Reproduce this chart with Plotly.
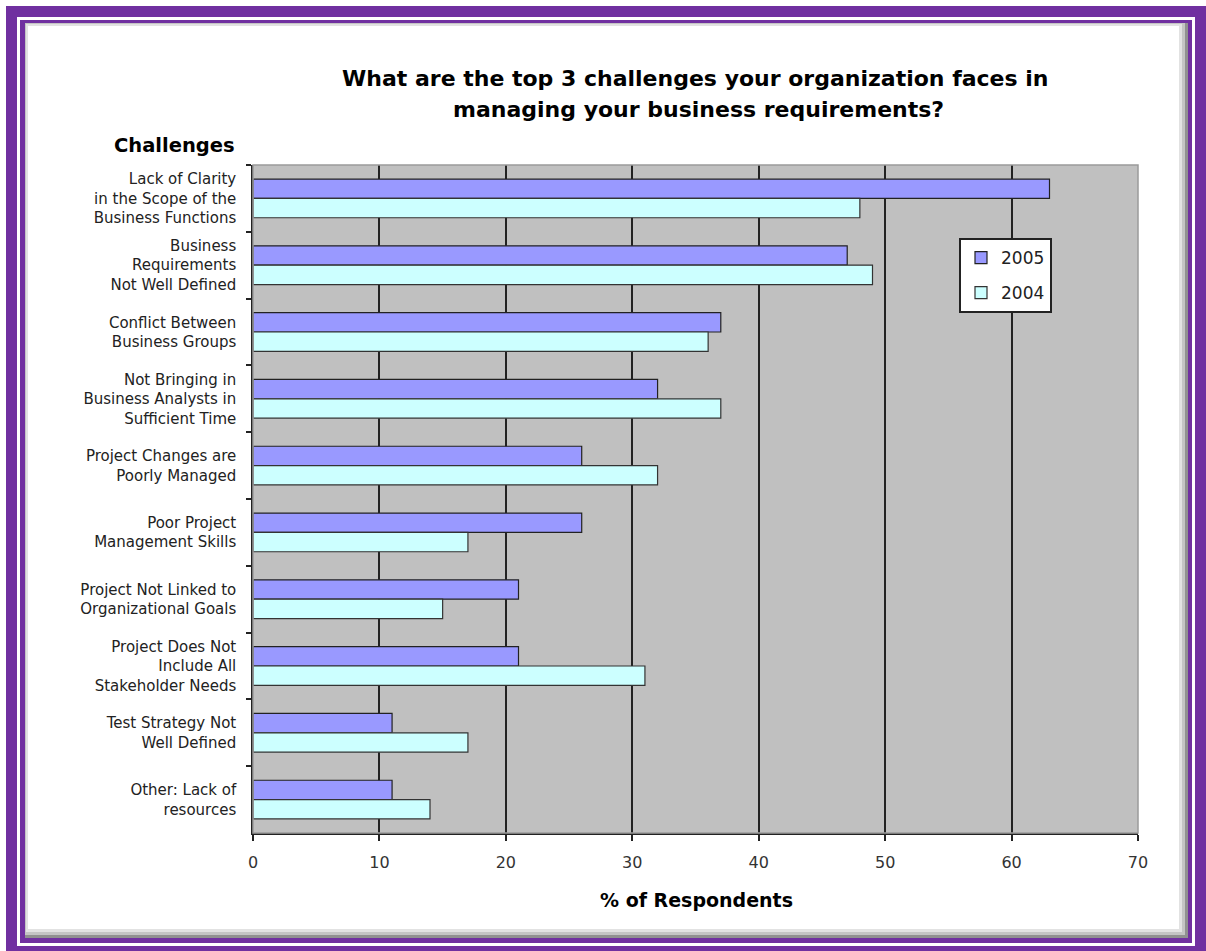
import plotly.graph_objects as go

categories = [
    "Lack of Clarity<br>in the Scope of the<br>Business Functions",
    "Business<br>Requirements<br>Not Well Defined",
    "Conflict Between<br>Business Groups",
    "Not Bringing in<br>Business Analysts in<br>Sufficient Time",
    "Project Changes are<br>Poorly Managed",
    "Poor Project<br>Management Skills",
    "Project Not Linked to<br>Organizational Goals",
    "Project Does Not<br>Include All<br>Stakeholder Needs",
    "Test Strategy Not<br>Well Defined",
    "Other: Lack of<br>resources",
]
values_2005 = [63, 47, 37, 32, 26, 26, 21, 21, 11, 11]
values_2004 = [48, 49, 36, 37, 32, 17, 15, 31, 17, 14]
x_ticks = [0, 10, 20, 30, 40, 50, 60, 70]
title_lines = [
    "What are the top 3 challenges your organization faces in",
    "managing your business requirements?",
]

W, H = 1206, 951
ML, MR, MT, MB = 253, 68, 165, 118
PW = W - ML - MR
PH = H - MT - MB


def px(x):
    return (x - ML) / PW


def py(y):
    return (H - MB - y) / PH


fig = go.Figure()
fig.add_trace(go.Bar(
    y=categories, x=values_2005, name="2005", orientation="h", legendgroup="a",
    marker=dict(color="#9999FF", line=dict(color="#222222", width=1.2)),
))
fig.add_trace(go.Bar(
    y=categories, x=values_2004, name="2004", orientation="h", legendgroup="b",
    marker=dict(color="#CCFFFF", line=dict(color="#333333", width=1.2)),
))

shapes = []
purple = "#7030A0"


def frame(x0, y0, x1, y1, t_l, t_t, t_r, t_b, color):
    rects = [
        (x0, y0, x0 + t_l, y1),
        (x1 - t_r, y0, x1, y1),
        (x0, y0, x1, y0 + t_t),
        (x0, y1 - t_b, x1, y1),
    ]
    for a, b, c, d in rects:
        if c - a <= 0 or d - b <= 0:
            continue
        shapes.append(dict(type="rect", xref="paper", yref="paper",
                           x0=px(a), x1=px(c), y0=py(b), y1=py(d),
                           fillcolor=color, line=dict(width=0), layer="above"))


# shadow inside inner frame
frame(25, 23, 1188, 938, 3, 3, 9, 9, "#E2E2E2")
frame(25, 23, 1188, 938, 1, 1, 6, 6, "#C4C4C4")
frame(25, 23, 1188, 938, 0, 0, 3, 3, "#909090")
# inner thin purple line
frame(20, 20, 1192, 943, 5, 3, 4, 5, purple)
# outer thick purple band
frame(6, 6, 1206, 951, 11, 11, 11, 5, purple)

# plot area border (light gray)
shapes.append(dict(type="rect", xref="paper", yref="paper", x0=0, x1=1, y0=0, y1=1,
                   line=dict(color="#9A9A9A", width=1.5), layer="above"))

annotations = [
    dict(text="<b>" + title_lines[0] + "</b>",
         xref="paper", yref="paper", x=px(695), y=py(78), xanchor="center", yanchor="middle",
         showarrow=False, font=dict(family="DejaVu Sans", size=22, color="#000000")),
    dict(text="<b>" + title_lines[1] + "</b>",
         xref="paper", yref="paper", x=px(698), y=py(109), xanchor="center", yanchor="middle",
         showarrow=False, font=dict(family="DejaVu Sans", size=22, color="#000000")),
    dict(text="<b>Challenges</b>", xref="paper", yref="paper", x=px(237), y=py(145),
         xanchor="right", yanchor="middle", showarrow=False,
         font=dict(family="DejaVu Sans", size=19.5, color="#000000")),
    dict(text="<b>% of Respondents</b>", xref="paper", yref="paper", x=px(696), y=py(900),
         xanchor="center", yanchor="middle", showarrow=False,
         font=dict(family="DejaVu Sans", size=19, color="#000000")),
]

fig.update_layout(
    width=W, height=H,
    margin=dict(l=ML, r=MR, t=MT, b=MB, pad=0),
    paper_bgcolor="white",
    plot_bgcolor="#C0C0C0",
    barmode="group",
    bargap=0.42,
    bargroupgap=0,
    showlegend=True,
    legend=dict(
        x=px(959), y=py(238), xanchor="left", yanchor="top",
        bgcolor="white", bordercolor="#222222", borderwidth=2,
        font=dict(family="DejaVu Sans", size=17, color="#222222"),
        tracegroupgap=10, itemwidth=30,
    ),
    shapes=shapes,
    annotations=annotations,
    xaxis=dict(
        range=[0, 70], tickvals=x_ticks, ticktext=[str(v) for v in x_ticks],
        showgrid=True, gridcolor="#222222", gridwidth=2,
        zeroline=False, showline=True, linecolor="#222222", linewidth=1.5,
        ticks="outside", ticklen=6, tickcolor="#222222", tickwidth=1.5,
        tickfont=dict(family="DejaVu Sans", size=16, color="#333333"),
        ticklabelstandoff=8,
    ),
    yaxis=dict(
        autorange="reversed", type="category",
        showgrid=False, zeroline=False, showline=True, linecolor="#222222", linewidth=1.5,
        ticks="outside", ticklen=5, tickcolor="#222222", tickwidth=1.5,
        tickson="boundaries",
        tickfont=dict(family="DejaVu Sans", size=15, color="#222222"),
        ticklabelstandoff=12,
    ),
)

fig.write_html("out.html", config={"displayModeBar": False},
               post_script="document.body.style.margin='0';")
